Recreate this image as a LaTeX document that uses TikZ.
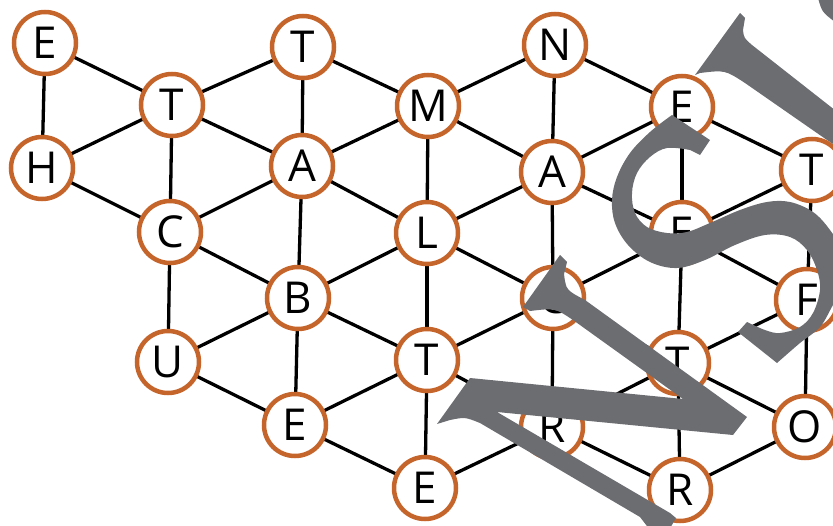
\documentclass[tikz,border=0pt]{standalone}
\usepackage{fontspec}
\newfontfamily\gridfont{Open Sans}
\definecolor{ringorange}{RGB}{197,101,43}
\definecolor{stampgrey}{RGB}{108,109,113}
\pgfdeclarelayer{links}
\pgfsetlayers{links,main}
\tikzset{
  letter/.style={circle, draw=ringorange, line width=4.5pt, fill=white,
    minimum size=62pt, inner sep=0pt,
    font=\gridfont\fontsize{44}{44}\selectfont},
  link/.style={line width=3.3pt, black},
  stamp/.style={fill=stampgrey}
}
\begin{document}
\begin{tikzpicture}[x=1pt, y=-1pt]
\useasboundingbox (0,0) rectangle (833,525);

% letter nodes of the grid
\node[letter] (E1) at (45,43)  {E};
\node[letter] (T1) at (303,47) {T};
\node[letter] (N1) at (555,45) {N};
\node[letter] (T2) at (172,105) {T};
\node[letter] (M1) at (428,106) {M};
\node[letter] (E2) at (682,107) {E};
\node[letter] (H1) at (42,168)  {H};
\node[letter] (A1) at (302,166) {A};
\node[letter] (A2) at (552,172) {A};
\node[letter] (T3) at (812,170) {T};
\node[letter] (C1) at (170,232) {C};
\node[letter] (L1) at (427,233) {L};
\node[letter] (E3) at (682,233) {E};
\node[letter] (B1) at (298,298) {B};
\node[letter] (C2) at (553,298) {C};
\node[letter] (F1) at (807,300) {F};
\node[letter] (U1) at (168,362) {U};
\node[letter] (T4) at (427,360) {T};
\node[letter] (T5) at (678,363) {T};
\node[letter] (E4) at (295,425) {E};
\node[letter] (R1) at (552,427) {R};
\node[letter] (O1) at (805,427) {O};
\node[letter] (E5) at (425,488) {E};
\node[letter] (R2) at (680,490) {R};

% connectors, kept on a layer behind the nodes
\begin{pgfonlayer}{links}
\foreach \a/\b in {E1/H1, E1/T2, H1/T2, H1/C1,
  T2/T1, T2/A1, T2/C1, T1/A1, T1/M1,
  A1/M1, A1/C1, A1/B1, A1/L1, C1/B1, C1/U1,
  M1/N1, M1/A2, M1/L1, N1/A2, N1/E2,
  E2/A2, E2/T3, E2/E3, A2/L1, A2/C2, A2/E3,
  T3/E3, T3/F1, L1/B1, L1/C2, L1/T4,
  B1/U1, B1/T4, B1/E4, U1/E4, E4/T4, E4/E5,
  T4/C2, T4/R1, T4/E5, C2/E3, C2/T5, C2/R1,
  E3/F1, E3/T5, F1/T5, F1/O1,
  T5/R1, T5/O1, T5/R2, R1/E5, R1/R2, O1/R2}
  \draw[link] (\a.center) -- (\b.center);
\end{pgfonlayer}

% large grey lettering laid over the grid
\begin{scope}
\clip (0,0) rectangle (833,525);
% N
\fill[stamp] (560,255) -- (567,262) -- (564,274) .. controls (566,290) .. (585,300)
  -- (747,417) -- (733,435) -- (497,412) -- (670,513) -- (676,518) -- (669,530)
  -- (650,530) -- (640,517) -- (480,423) .. controls (465,417) .. (450,420)
  -- (437,424) -- (470,378) -- (683,399) -- (573,320) .. controls (555,308) .. (530,311)
  -- (523,307) -- cycle;
% S
\fill[stamp] (672,115) -- (710,140) -- (700,155) -- (690,150)
  -- plot[smooth, tension=0.6] coordinates {(690,150) (667,148) (650,157) (637,173)
     (632,193) (635,213) (647,227) (667,233) (687,232) (710,223) (740,210) (767,202)
     (790,202) (813,212) (830,230) (845,255) (848,280) (833,305) (820,327) (800,343)
     (777,363)}
  -- (738,332) -- (747,322)
  -- plot[smooth, tension=0.6] coordinates {(747,322) (765,330) (780,333) (800,327)
     (813,313) (820,290) (817,270) (807,250) (790,237) (765,235) (735,245) (705,260)
     (677,268) (650,262) (628,245) (615,223) (612,200) (617,177) (630,153) (650,132)
     (672,115)}
  -- cycle;
% upright stroke at the top right
\fill[stamp] (740,13) -- (745,18) -- (743,30) .. controls (744,38) .. (752,45)
  -- (845,118) -- (845,152) -- (827,140) -- (745,83) .. controls (725,70) .. (700,73)
  -- (695,75) -- cycle;
\fill[stamp] (818,-2) .. controls (822,12) .. (835,22) -- (840,22) -- (840,-2) -- cycle;
\end{scope}
\end{tikzpicture}
\end{document}
